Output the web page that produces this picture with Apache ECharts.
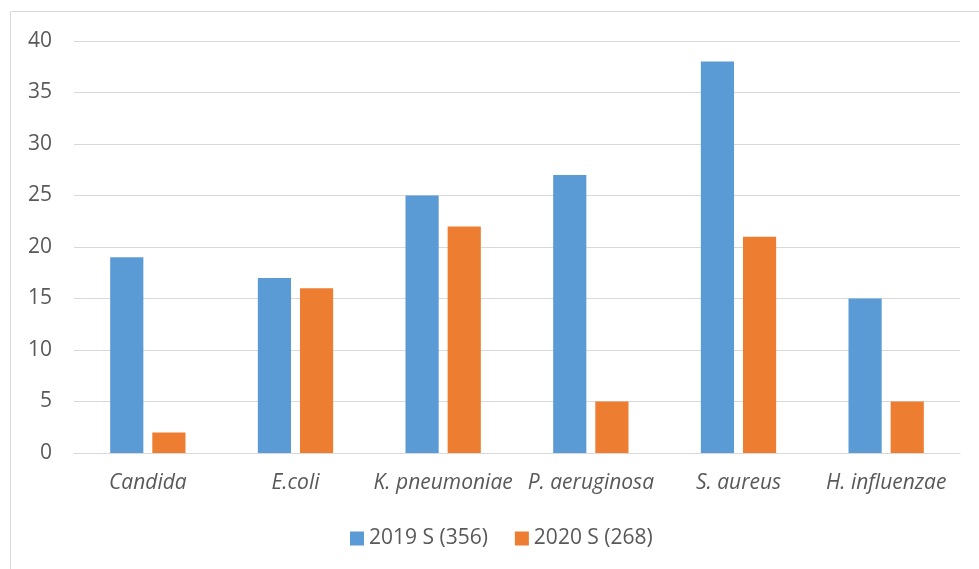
<!DOCTYPE html>
<html>
<head>
<meta charset="utf-8">
<script src="https://cdn.jsdelivr.net/npm/echarts@6/dist/echarts.min.js"></script>
<style>
  html, body { margin: 0; padding: 0; background: #fff; }
  #chart { width: 979px; height: 569px; }
</style>
</head>
<body>
<div id="chart"></div>
<script>
// Organisms and counts per year
const categories = ['Candida', 'E.coli', 'K. pneumoniae', 'P. aeruginosa', 'S. aureus', 'H. influenzae'];
const series2019 = [19, 17, 25, 27, 38, 15];
const series2020 = [2, 16, 22, 5, 21, 5];
const seriesNames = ['2019 S (356)', '2020 S (268)'];
const yTicks = { min: 0, max: 40, interval: 5 };

const textColor = '#595959';
const fontFamily = '"Open Sans", "Liberation Sans", sans-serif';
const fontSize = 21;

const chart = echarts.init(document.getElementById('chart'), null, { renderer: 'canvas' });
chart.setOption({
  animation: false,
  textStyle: { fontFamily: fontFamily },
  graphic: [{
    type: 'rect',
    shape: { x: 10.5, y: 11.5, width: 990, height: 600 },
    style: { fill: 'none', stroke: '#d9d9d9', lineWidth: 1 },
    silent: true
  }],
  grid: { left: 74, right: 19, top: 41, bottom: 116, containLabel: false },
  legend: {
    data: seriesNames,
    top: 523,
    left: 345,
    itemWidth: 14,
    itemHeight: 14,
    itemGap: 27,
    icon: 'rect',
    textStyle: { color: textColor, fontSize: fontSize, fontFamily: fontFamily }
  },
  xAxis: {
    type: 'category',
    data: categories,
    axisLine: { lineStyle: { color: '#d9d9d9', width: 1 } },
    axisTick: { show: false },
    axisLabel: {
      color: textColor, fontSize: fontSize, fontStyle: 'italic', margin: 20,
      fontFamily: fontFamily, interval: 0
    }
  },
  yAxis: {
    type: 'value',
    min: yTicks.min, max: yTicks.max, interval: yTicks.interval,
    axisLine: { show: false },
    axisTick: { show: false },
    splitLine: { lineStyle: { color: '#d9d9d9', width: 1 } },
    axisLabel: { color: textColor, fontSize: fontSize, margin: 22, fontFamily: fontFamily }
  },
  series: [
    {
      name: seriesNames[0], type: 'bar', data: series2019,
      itemStyle: { color: '#5b9bd5' },
      barGap: '27%', barCategoryGap: '49%'
    },
    {
      name: seriesNames[1], type: 'bar', data: series2020,
      itemStyle: { color: '#ed7d31' },
      barGap: '27%', barCategoryGap: '49%'
    }
  ]
});
</script>
</body>
</html>
